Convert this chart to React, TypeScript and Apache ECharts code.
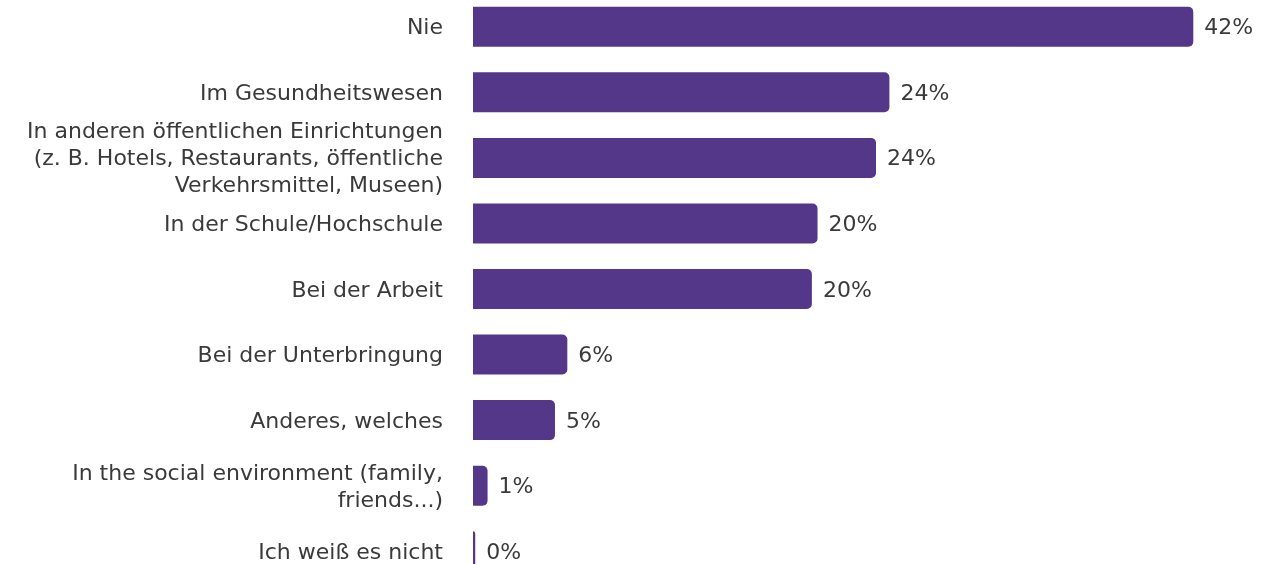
import React, { useEffect, useRef } from "react";
import * as echarts from "echarts";

const categories = [
  "Nie",
  "Im Gesundheitswesen",
  "In anderen öffentlichen Einrichtungen\n(z. B. Hotels, Restaurants, öffentliche\nVerkehrsmittel, Museen)",
  "In der Schule/Hochschule",
  "Bei der Arbeit",
  "Bei der Unterbringung",
  "Anderes, welches",
  "In the social environment (family,\nfriends...)",
  "Ich weiß es nicht",
];

const values = [42.0, 24.28, 23.5, 20.09, 19.76, 5.5, 4.78, 0.85, 0.13];

export default function App() {
  const ref = useRef<HTMLDivElement>(null);
  useEffect(() => {
    if (!ref.current) return;
    const chart = echarts.init(ref.current, undefined, { renderer: "svg" });
    chart.setOption({
      animation: false,
      grid: { left: 473, top: 0, width: 720.3, bottom: 0, containLabel: false },
      xAxis: {
        type: "value",
        min: 0,
        max: 42,
        show: false,
      },
      yAxis: {
        type: "category",
        inverse: true,
        data: categories,
        axisLine: { show: false },
        axisTick: { show: false },
        axisLabel: {
          margin: 30,
          fontFamily: "DejaVu Sans",
          fontSize: 22,
          lineHeight: 27,
          color: "#3a3a3a",
          align: "right",
        },
      },
      series: [
        {
          type: "bar",
          data: values,
          barWidth: 40,
          itemStyle: { color: "#55378a", borderRadius: [0, 5, 5, 0] },
          label: {
            show: true,
            position: "right",
            distance: 11,
            fontFamily: "DejaVu Sans",
            fontSize: 22,
            color: "#3a3a3a",
            formatter: (p: any) => Math.round(p.value) + "%",
          },
        },
      ],
    });
    return () => chart.dispose();
  }, []);
  return (
    <div
      ref={ref}
      style={{ position: "fixed", left: 0, top: -6, width: 1286, height: 590 }}
    />
  );
}
